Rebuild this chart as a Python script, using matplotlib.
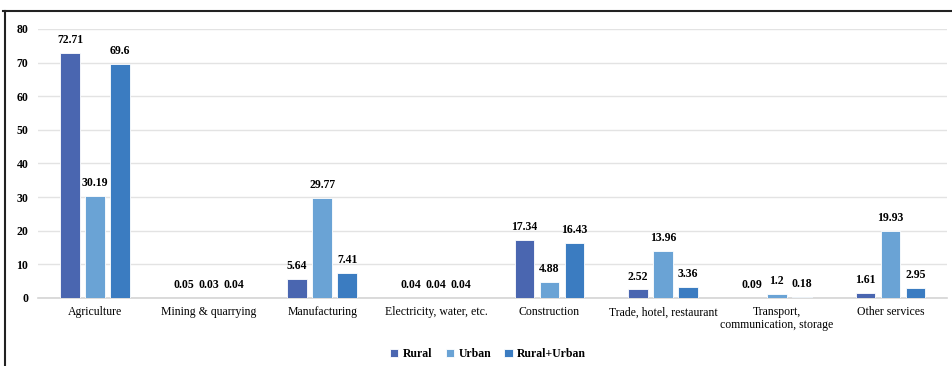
import numpy as np
import matplotlib.pyplot as plt
from matplotlib.lines import Line2D

categories = ["Agriculture", "Mining & quarrying", "Manufacturing",
              "Electricity, water, etc.", "Construction",
              "Trade, hotel, restaurant", "Transport,\ncommunication, storage",
              "Other services"]
rural = [72.71, 0.05, 5.64, 0.04, 17.34, 2.52, 0.09, 1.61]
urban = [30.19, 0.03, 29.77, 0.04, 4.88, 13.96, 1.2, 19.93]
rural_urban = [69.6, 0.04, 7.41, 0.04, 16.43, 3.36, 0.18, 2.95]
series_names = ["Rural", "Urban", "Rural+Urban"]
y_ticks = [0, 10, 20, 30, 40, 50, 60, 70, 80]

colors = ["#4a66b0", "#6aa3d5", "#3b7cc1"]

plt.rcParams['font.family'] = ['Liberation Serif', 'DejaVu Serif']

fig = plt.figure(figsize=(9.53, 3.66), dpi=100)
ax = fig.add_axes([0.040, 0.186, 0.954, 0.735])

x = np.arange(len(categories))
bar_width = 0.175
step = 0.22
for i, (vals, name) in enumerate(zip([rural, urban, rural_urban], series_names)):
    pos = x + (i - 1) * step
    rects = ax.bar(pos, vals, bar_width, color=colors[i], edgecolor='white',
                   linewidth=0.6, label=name, zorder=3)
    for rect, v in zip(rects, vals):
        ax.annotate(f"{v:g}", xy=(rect.get_x() + rect.get_width() / 2, rect.get_height()),
                    xytext=(0, 5), textcoords="offset points",
                    ha='center', va='bottom', fontsize=8.5, fontweight='bold')

ax.set_ylim(0, 80)
ax.set_xlim(-0.5, len(categories) - 0.5)
ax.set_yticks(y_ticks)
ax.set_yticklabels([str(t) for t in y_ticks], fontweight='bold', fontsize=8.5)
ax.set_xticks(x)
ax.set_xticklabels(categories, fontsize=8.5, linespacing=1.1)
ax.tick_params(axis='both', length=0, pad=6)
ax.tick_params(axis='y', pad=7)
ax.grid(axis='y', color='#e3e3e3', linewidth=1.0, zorder=0)
for s in ['top', 'right', 'left']:
    ax.spines[s].set_visible(False)
ax.spines['bottom'].set_color('#d4d4d4')
ax.spines['bottom'].set_linewidth(1.2)

ax.legend(loc='lower center', bbox_to_anchor=(0.495, -0.27), ncol=3, frameon=False,
          prop={'weight': 'bold', 'size': 8.5}, handlelength=0.7, handleheight=0.7,
          columnspacing=1.1, handletextpad=0.4)

# outer frame lines (top and left)
fig.add_artist(Line2D([3 / 953, 1.0], [1 - 11 / 366, 1 - 11 / 366], color='#222222',
                      linewidth=1.5, transform=fig.transFigure))
fig.add_artist(Line2D([5 / 953, 5 / 953], [0, 1 - 11 / 366], color='#222222',
                      linewidth=1.5, transform=fig.transFigure))

fig.savefig("out.png", dpi=100)
